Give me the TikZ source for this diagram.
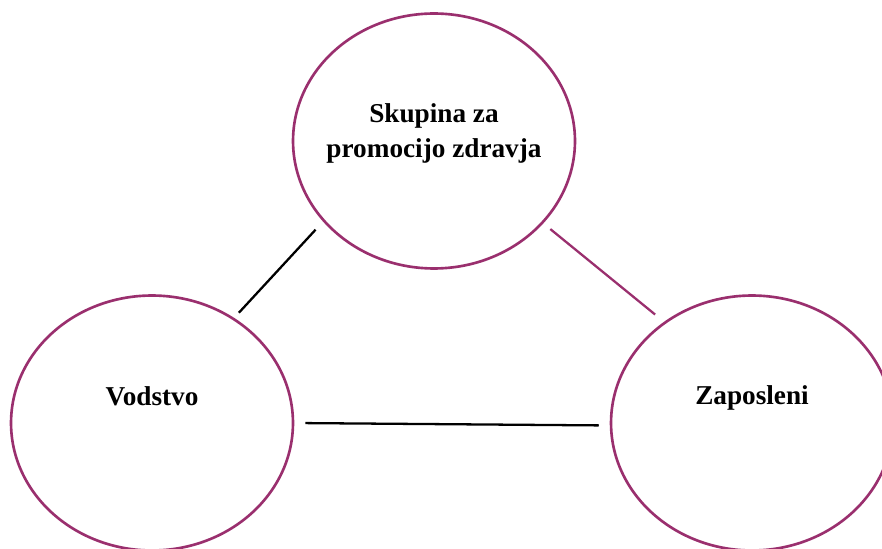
\documentclass[tikz,border=0pt]{standalone}
\usepackage{fontspec}
\setmainfont{Liberation Serif}
\usepackage{tikz}
\usetikzlibrary{shapes,positioning}
\definecolor{plum}{HTML}{9A2F6E}

\begin{document}
\begin{tikzpicture}[x=0.02cm, y=0.02cm]
			\tikzstyle{Circle}	= [ellipse, draw=plum, line width=1.5pt, fill=white, inner sep=0pt, minimum width=5.64cm, minimum height=5.1cm]
			\tikzstyle{Name}	= [font=\fontsize{15.5pt}{19.9pt}\selectfont\bfseries, align=center, inner sep=0pt]
			\tikzstyle{Tie}		= [line width=1.3pt, black]
			
			\useasboundingbox (0,0) rectangle (882,548);
			\clip (0,0) rectangle (882,548);
			
			\node (grp) at (434,407) [Circle][label={[Name, yshift=0.16cm]center:Skupina za\\promocijo zdravja}] {};
			\node (vod) at (152,125) [Circle][label={[Name, yshift=0.54cm]center:Vodstvo}] {};
			\node (emp) at (752,125) [Circle][label={[Name, yshift=0.50cm]center:Zaposleni}] {};
			
			\draw [Tie, shorten <=0.14cm, shorten >=0.22cm] (vod.52) to (grp.216);
			\draw [Tie, plum, shorten <=0.18cm, shorten >=0.23cm] (grp.323) to (emp.131);
			\draw [Tie, shorten <=0.22cm, shorten >=0.22cm] (vod.0) to (emp.181);
		\end{tikzpicture}
\end{document}
